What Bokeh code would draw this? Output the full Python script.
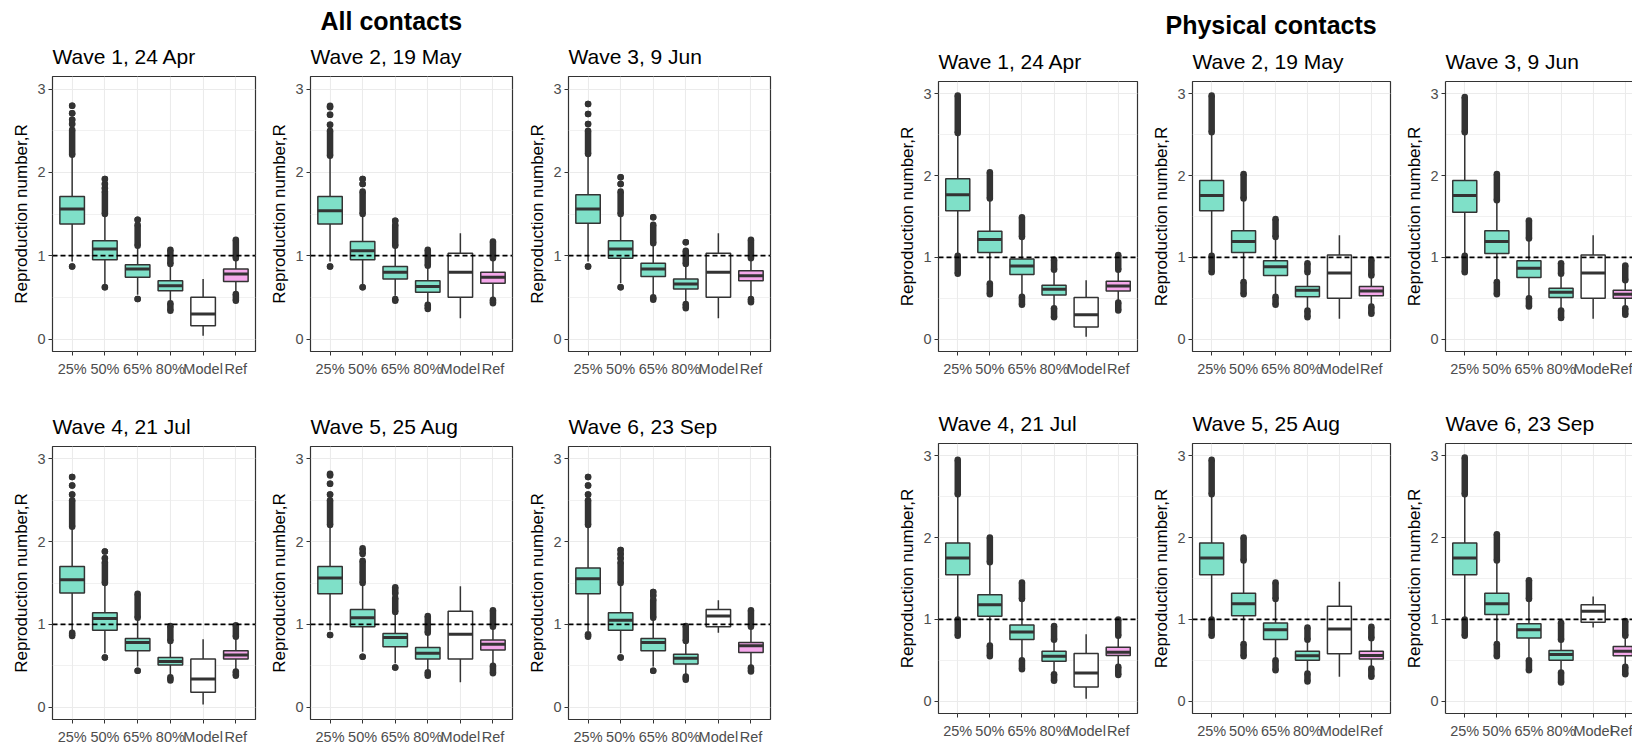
from bokeh.plotting import figure
from bokeh.layouts import row, column
from bokeh.models import FixedTicker, Span, Title, LinearAxis, Range1d
from bokeh.embed import file_html
from bokeh.resources import INLINE

# ---------------- data ----------------
categories = ["25%", "50%", "65%", "80%", "Model", "Ref"]
wave_titles = ["Wave 1, 24 Apr", "Wave 2, 19 May", "Wave 3, 9 Jun",
               "Wave 4, 21 Jul", "Wave 5, 25 Aug", "Wave 6, 23 Sep"]
group_titles = ["All contacts", "Physical contacts"]
ref_line = 1.0

# All contacts (per wave: 6 boxes)
all_q1 = [[1.38, 0.95, 0.74, 0.58, 0.16, 0.69],
          [1.38, 0.95, 0.72, 0.56, 0.50, 0.67],
          [1.39, 0.97, 0.75, 0.60, 0.50, 0.70],
          [1.38, 0.93, 0.68, 0.51, 0.18, 0.58],
          [1.37, 0.97, 0.73, 0.58, 0.58, 0.69],
          [1.37, 0.93, 0.68, 0.52, 0.97, 0.66]]
all_med = [[1.56, 1.08, 0.84, 0.64, 0.30, 0.78],
           [1.54, 1.06, 0.80, 0.63, 0.80, 0.74],
           [1.56, 1.08, 0.84, 0.66, 0.80, 0.76],
           [1.54, 1.07, 0.78, 0.55, 0.34, 0.63],
           [1.56, 1.08, 0.84, 0.65, 0.88, 0.76],
           [1.55, 1.05, 0.78, 0.59, 1.10, 0.74]]
all_q3 = [[1.71, 1.18, 0.89, 0.70, 0.50, 0.84],
          [1.71, 1.17, 0.87, 0.70, 1.03, 0.80],
          [1.73, 1.18, 0.91, 0.72, 1.03, 0.82],
          [1.70, 1.14, 0.83, 0.60, 0.58, 0.68],
          [1.70, 1.18, 0.89, 0.72, 1.16, 0.81],
          [1.68, 1.14, 0.83, 0.64, 1.18, 0.78]]
all_wlo = [[0.93, 0.66, 0.53, 0.45, 0.04, 0.56],
           [0.93, 0.66, 0.52, 0.44, 0.25, 0.50],
           [0.93, 0.67, 0.53, 0.45, 0.25, 0.51],
           [0.92, 0.65, 0.49, 0.38, 0.03, 0.45],
           [0.93, 0.67, 0.53, 0.45, 0.30, 0.52],
           [0.92, 0.65, 0.49, 0.39, 0.90, 0.50]]
all_whi = [[2.20, 1.49, 1.10, 0.88, 0.72, 0.96],
           [2.18, 1.48, 1.10, 0.86, 1.27, 0.95],
           [2.20, 1.49, 1.13, 0.88, 1.27, 0.96],
           [2.16, 1.48, 1.06, 0.78, 0.82, 0.83],
           [2.18, 1.48, 1.13, 0.88, 1.46, 0.95],
           [2.18, 1.48, 1.06, 0.78, 1.29, 0.95]]
# outliers: runs of [low, high] (a single point has low == high)
all_out = [
    [[[0.87, 0.87], [2.21, 2.51], [2.58, 2.58], [2.63, 2.63], [2.71, 2.71], [2.80, 2.80]],
     [[0.62, 0.62], [1.50, 1.77], [1.81, 1.81], [1.86, 1.86], [1.92, 1.92]],
     [[0.48, 0.48], [1.12, 1.37], [1.43, 1.43]],
     [[0.34, 0.43], [0.90, 1.07]],
     [],
     [[0.46, 0.54], [0.97, 1.19]]],
    [[[0.87, 0.87], [2.20, 2.50], [2.57, 2.57], [2.69, 2.69], [2.78, 2.80]],
     [[0.62, 0.62], [1.50, 1.77], [1.86, 1.86], [1.92, 1.92]],
     [[0.46, 0.48], [1.12, 1.37], [1.42, 1.42]],
     [[0.36, 0.41], [0.88, 1.07]],
     [],
     [[0.43, 0.47], [0.97, 1.17]]],
    [[[0.87, 0.87], [2.22, 2.50], [2.58, 2.58], [2.70, 2.70], [2.82, 2.82]],
     [[0.62, 0.62], [1.50, 1.77], [1.86, 1.86], [1.94, 1.94]],
     [[0.47, 0.50], [1.15, 1.37], [1.46, 1.46]],
     [[0.37, 0.42], [0.90, 1.06], [1.16, 1.16]],
     [],
     [[0.44, 0.48], [0.97, 1.19]]],
    [[[0.86, 0.90], [2.18, 2.50], [2.57, 2.57], [2.68, 2.68], [2.78, 2.78]],
     [[0.60, 0.60], [1.50, 1.75], [1.80, 1.80], [1.88, 1.88]],
     [[0.44, 0.44], [1.08, 1.37]],
     [[0.32, 0.36], [0.80, 0.98]],
     [],
     [[0.38, 0.43], [0.85, 0.99]]],
    [[[0.87, 0.87], [2.20, 2.50], [2.57, 2.57], [2.70, 2.70], [2.80, 2.82]],
     [[0.61, 0.61], [1.50, 1.77], [1.85, 1.92]],
     [[0.48, 0.48], [1.15, 1.32], [1.37, 1.45]],
     [[0.38, 0.42], [0.90, 1.10]],
     [],
     [[0.41, 0.50], [0.97, 1.17]]],
    [[[0.85, 0.88], [2.20, 2.50], [2.57, 2.57], [2.68, 2.68], [2.78, 2.78]],
     [[0.60, 0.60], [1.50, 1.75], [1.80, 1.80], [1.85, 1.85], [1.90, 1.90]],
     [[0.44, 0.44], [1.08, 1.30], [1.35, 1.35], [1.39, 1.39]],
     [[0.33, 0.37], [0.80, 0.98]],
     [],
     [[0.43, 0.48], [0.97, 1.17]]],
]

# Physical contacts
phys_q1 = [[1.57, 1.06, 0.79, 0.54, 0.15, 0.59],
           [1.57, 1.06, 0.78, 0.52, 0.50, 0.53],
           [1.553, 1.048, 0.754, 0.51, 0.50, 0.50],
           [1.547, 1.04, 0.753, 0.49, 0.175, 0.56],
           [1.547, 1.046, 0.753, 0.50, 0.58, 0.517],
           [1.547, 1.06, 0.773, 0.50, 0.965, 0.557]]
phys_med = [[1.765, 1.22, 0.895, 0.61, 0.30, 0.65],
            [1.757, 1.195, 0.885, 0.60, 0.81, 0.59],
            [1.757, 1.195, 0.868, 0.575, 0.81, 0.55],
            [1.75, 1.18, 0.847, 0.55, 0.346, 0.60],
            [1.75, 1.19, 0.875, 0.557, 0.883, 0.56],
            [1.75, 1.19, 0.875, 0.57, 1.10, 0.61]]
phys_q3 = [[1.96, 1.32, 0.98, 0.66, 0.51, 0.71],
           [1.94, 1.325, 0.958, 0.644, 1.03, 0.644],
           [1.94, 1.325, 0.958, 0.624, 1.03, 0.60],
           [1.933, 1.30, 0.932, 0.61, 0.582, 0.66],
           [1.933, 1.32, 0.956, 0.61, 1.16, 0.61],
           [1.933, 1.32, 0.948, 0.62, 1.18, 0.67]]
phys_wlo = [[1.04, 0.70, 0.54, 0.39, 0.03, 0.47],
            [1.04, 0.71, 0.53, 0.36, 0.25, 0.41],
            [1.04, 0.71, 0.51, 0.36, 0.25, 0.39],
            [1.02, 0.70, 0.51, 0.34, 0.03, 0.43],
            [1.02, 0.71, 0.51, 0.35, 0.30, 0.41],
            [1.02, 0.71, 0.51, 0.36, 0.90, 0.43]]
phys_whi = [[2.50, 1.70, 1.24, 0.84, 0.72, 0.84],
            [2.51, 1.70, 1.24, 0.81, 1.27, 0.77],
            [2.51, 1.68, 1.22, 0.79, 1.27, 0.71],
            [2.51, 1.68, 1.23, 0.73, 0.82, 0.79],
            [2.51, 1.70, 1.23, 0.74, 1.46, 0.76],
            [2.51, 1.70, 1.23, 0.74, 1.28, 0.79]]
phys_out = [
    [[[0.80, 1.02], [2.52, 2.98]], [[0.55, 0.68], [1.72, 2.04]], [[0.42, 0.52], [1.25, 1.49]],
     [[0.27, 0.38], [0.85, 0.97]], [], [[0.35, 0.45], [0.85, 1.03]]],
    [[[0.82, 1.02], [2.53, 2.98]], [[0.55, 0.70], [1.72, 2.02]], [[0.42, 0.52], [1.25, 1.47]],
     [[0.27, 0.35], [0.82, 0.93]], [], [[0.31, 0.40], [0.78, 0.97]]],
    [[[0.82, 1.02], [2.53, 2.96]], [[0.55, 0.70], [1.70, 2.02]], [[0.40, 0.50], [1.23, 1.45]],
     [[0.26, 0.35], [0.80, 0.93]], [], [[0.30, 0.38], [0.72, 0.90]]],
    [[[0.80, 1.00], [2.53, 2.95]], [[0.55, 0.68], [1.70, 2.00]], [[0.39, 0.50], [1.25, 1.45]],
     [[0.25, 0.33], [0.75, 0.92]], [], [[0.32, 0.42], [0.80, 1.00]]],
    [[[0.80, 1.00], [2.53, 2.95]], [[0.55, 0.70], [1.72, 2.00]], [[0.38, 0.50], [1.25, 1.45]],
     [[0.24, 0.34], [0.75, 0.90]], [], [[0.30, 0.40], [0.77, 0.91]]],
    [[[0.80, 1.00], [2.53, 2.98]], [[0.55, 0.70], [1.72, 2.04]], [[0.38, 0.50], [1.25, 1.48]],
     [[0.23, 0.35], [0.75, 0.96]], [], [[0.33, 0.42], [0.80, 0.98]]],
]

# ---------------- style ----------------
FONT = "Liberation Sans"
TEAL = "#7FE0C8"
PINK = "#F5A8EB"
DARK = "#333333"
GRID = "#EBEBEB"
box_fill = [TEAL, TEAL, TEAL, TEAL, "#FFFFFF", PINK]
x_pos = list(range(1, len(categories) + 1))
BOX_W = 0.75
DOT = 6.5
Y0, Y1 = -0.15, 3.15


def make_panel(title, q1, med, q3, wlo, whi, out, b_left, f_w, b_right,
               b_top, f_h, b_bottom, x_end=6.6, header=None, header_offset=0,
               header_standoff=0, cut=False):
    p = figure(width=b_left + f_w + b_right, height=b_top + f_h + b_bottom,
               x_range=Range1d(0.4, x_end), y_range=Range1d(Y0, Y1),
               output_backend="svg", toolbar_location=None, tools="",
               title=header,
               min_border_left=b_left, min_border_right=b_right,
               min_border_top=b_top, min_border_bottom=b_bottom,
               background_fill_color="white", border_fill_color="white")
    p.outline_line_color = None if cut else DARK
    p.outline_line_width = 1.2
    xb = p.below[0]
    yl = p.left[0]

    # axes
    xb.ticker = FixedTicker(ticks=x_pos)
    xb.major_label_overrides = {x: c for x, c in zip(x_pos, categories)}
    yl.ticker = FixedTicker(ticks=[0, 1, 2, 3], minor_ticks=[0.5, 1.5, 2.5])
    for ax in (xb, yl):
        ax.major_tick_out = 4
        ax.major_tick_in = 0
        ax.minor_tick_line_color = None
        ax.major_tick_line_color = DARK
        ax.major_label_text_font = FONT
        ax.major_label_text_font_size = "14.5px"
        ax.major_label_text_color = "#4D4D4D"
        ax.axis_line_color = DARK if cut else None
        ax.axis_line_width = 1.2
    xb.major_label_standoff = 5
    yl.major_label_standoff = 3
    yl.axis_label = "Reproduction number,R"
    yl.axis_label_text_font = FONT
    yl.axis_label_text_font_size = "17px"
    yl.axis_label_text_font_style = "normal"
    yl.axis_label_text_color = "#000000"
    yl.axis_label_standoff = 3

    # grid
    p.xgrid.grid_line_color = GRID
    p.xgrid.grid_line_width = 1.1
    p.ygrid.grid_line_color = GRID
    p.ygrid.grid_line_width = 1.1
    p.ygrid.minor_grid_line_color = GRID
    p.ygrid.minor_grid_line_width = 0.7

    if cut:
        # top border of a panel cut by the page edge (closest to the frame)
        top = LinearAxis(ticker=FixedTicker(ticks=[]), major_tick_out=0,
                         major_tick_in=0, minor_tick_out=0, minor_tick_in=0,
                         major_label_standoff=0, major_label_text_font_size="0px",
                         axis_line_color=DARK, axis_line_width=1.2)
        p.add_layout(top, "above")

    # group header (outer) and wave title (next to the frame)
    if header:
        p.title.text_font = FONT
        p.title.text_font_size = "25px"
        p.title.text_font_style = "bold"
        p.title.text_color = "#000000"
        p.title.align = "left"
        p.title.offset = header_offset
        p.title.standoff = header_standoff
    p.add_layout(Title(text=title, align="left", text_font=FONT,
                       text_font_size="21px", text_font_style="normal",
                       text_color="#000000", standoff=17), "above")

    # whiskers
    p.segment(x0=x_pos, y0=wlo, x1=x_pos, y1=q1, line_color=DARK, line_width=1.5)
    p.segment(x0=x_pos, y0=q3, x1=x_pos, y1=whi, line_color=DARK, line_width=1.5)

    # outliers
    px, py, sx, sy0, sy1 = [], [], [], [], []
    for xi, runs in zip(x_pos, out):
        for lo, hi in runs:
            px += [xi, xi]
            py += [lo, hi]
            if hi > lo:
                sx.append(xi); sy0.append(lo); sy1.append(hi)
    if sx:
        p.segment(x0=sx, y0=sy0, x1=sx, y1=sy1, line_color=DARK,
                  line_width=DOT, line_cap="butt")
    if px:
        p.scatter(x=px, y=py, size=DOT, marker="circle", fill_color=DARK,
                  line_color=None)

    # boxes
    p.vbar(x=x_pos, width=BOX_W, bottom=q1, top=q3, fill_color=box_fill,
           line_color=DARK, line_width=1.5)
    # medians
    p.segment(x0=[x - BOX_W / 2 for x in x_pos], y0=med,
              x1=[x + BOX_W / 2 for x in x_pos], y1=med,
              line_color=DARK, line_width=3)

    p.add_layout(Span(location=ref_line, dimension="width", line_color="#000000",
                      line_width=1.6, line_dash="5 3"))
    return p


# ---------------- layout ----------------
# (left border, frame width, right border, x_end)
all_cols = [(52, 203, 2, 6.6), (53, 202, 2, 6.6), (54, 202, 2, 6.6)]
phys_cols = [(166, 199, 2, 6.6), (53, 198, 2, 6.6), (53, 187, 0, 0.4 + 187 * 6.2 / 199)]

cols = []
for gi, (cols_spec, q1s, meds, q3s, wlos, whis, outs) in enumerate([
        (all_cols, all_q1, all_med, all_q3, all_wlo, all_whi, all_out),
        (phys_cols, phys_q1, phys_med, phys_q3, phys_wlo, phys_whi, phys_out)]):
    if gi == 0:
        top_v = (76, 275, 30)
        bot_v = (65, 275, 26)
        hoff, hstand = 10, 0
    else:
        top_v = (81, 270, 30)
        bot_v = (62, 270, 34)
        hoff, hstand = -27, 2
    for ci, (bl, fw, br, xe) in enumerate(cols_spec):
        cut = (gi == 1 and ci == 2)
        header = group_titles[gi] if ci == 1 else None
        w_top = ci
        w_bot = ci + 3
        pt = make_panel(wave_titles[w_top], q1s[w_top], meds[w_top], q3s[w_top],
                        wlos[w_top], whis[w_top], outs[w_top], bl, fw, br,
                        *top_v, x_end=xe, header=header, header_offset=hoff,
                        header_standoff=hstand, cut=cut)
        pb = make_panel(wave_titles[w_bot], q1s[w_bot], meds[w_bot], q3s[w_bot],
                        wlos[w_bot], whis[w_bot], outs[w_bot], bl, fw, br,
                        *bot_v, x_end=xe, cut=cut)
        cols.append(column(pt, pb, spacing=0))

layout = row(*cols, spacing=0)

open("out.html", "w").write(file_html(layout, INLINE))
